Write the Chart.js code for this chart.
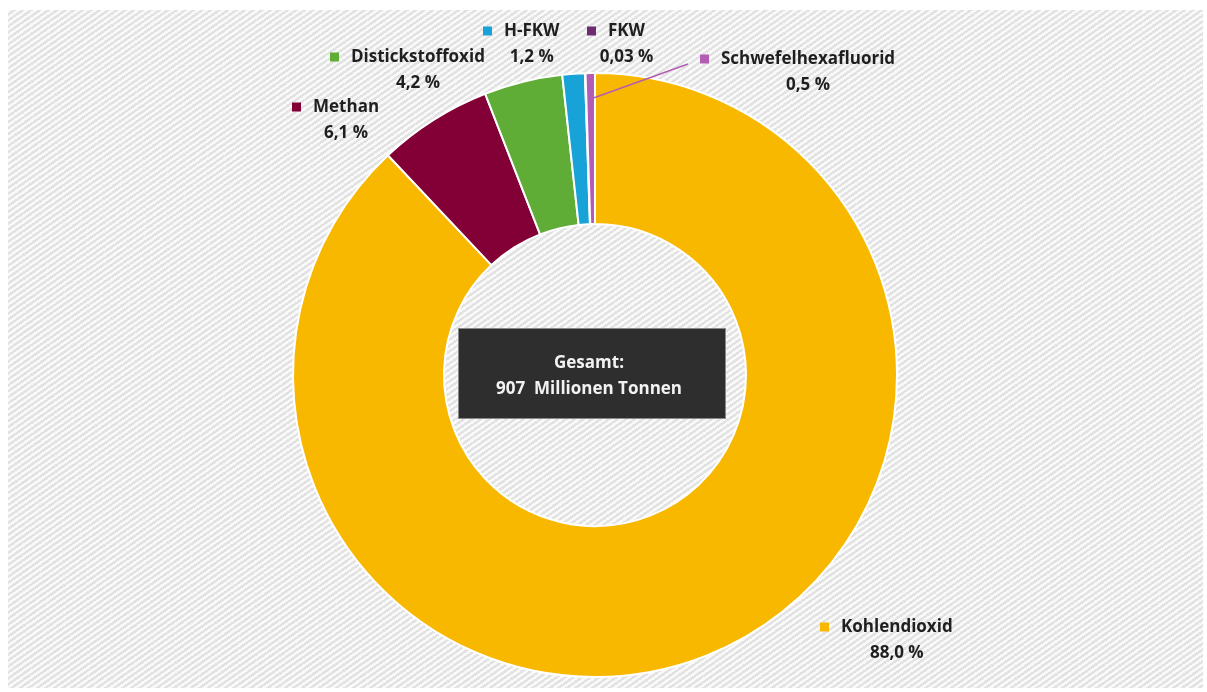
<!DOCTYPE html>
<html lang="de">
<head>
<meta charset="utf-8">
<title>Treibhausgas-Emissionen nach Gasen</title>
<script src="https://cdn.jsdelivr.net/npm/chart.js@4.4.1/dist/chart.umd.min.js"></script>
<style>
  html, body { margin: 0; padding: 0; background: #ffffff; }
  #frame {
    position: absolute; left: 8px; top: 10px; width: 1195px; height: 678px;
    background: repeating-linear-gradient(145deg, #f9f9f9 0px, #f9f9f9 2.5px, #e2e2e2 2.5px, #e2e2e2 4.9px);
  }
  #wrap { position: absolute; left: 0; top: 0; width: 1207px; height: 692px; }
</style>
</head>
<body>
<div id="frame"></div>
<div id="wrap"><canvas id="c" width="1207" height="692"></canvas></div>
<script>
// Anteile der Treibhausgase an den Gesamtemissionen (in %)
const gases = ['Kohlendioxid', 'Methan', 'Distickstoffoxid', 'H-FKW', 'FKW', 'Schwefelhexafluorid'];
const shares = [88.0, 6.1, 4.2, 1.2, 0.03, 0.5];
const shareLabels = ['88,0 %', '6,1 %', '4,2 %', '1,2 %', '0,03 %', '0,5 %'];
const colors = ['#f8b800', '#820035', '#5fac36', '#17a2d8', '#6e2b70', '#b35cb4'];
const totalLines = ['Gesamt:', '907  Millionen Tonnen'];

// Platzierung der Beschriftungen (Markierung links, Name, Prozentwert darunter)
const labelSpots = [
  { x: 820, y: 627 },
  { x: 292, y: 107 },
  { x: 330, y: 57 },
  { x: 483, y: 31 },
  { x: 587, y: 31 },
  { x: 700, y: 59 }
];
const leaderIndex = 5;

const FONT = 'bold 17px "Open Sans", "Noto Sans", sans-serif';

const labelPlugin = {
  id: 'gasLabels',
  afterDatasetsDraw(chart) {
    const ctx = chart.ctx;
    const meta = chart.getDatasetMeta(0);
    const first = meta.data[0];
    const cx = first.x, cy = first.y;

    // Summenbox in der Mitte
    ctx.save();
    const bw = 268, bh = 91;
    const bx = cx - 137, by = cy - 47;
    ctx.fillStyle = '#2e2e2e';
    ctx.fillRect(bx, by, bw, bh);
    ctx.strokeStyle = '#8a8a8a';
    ctx.lineWidth = 1;
    ctx.strokeRect(bx + 0.5, by + 0.5, bw - 1, bh - 1);
    ctx.fillStyle = '#f2f2f2';
    ctx.font = FONT;
    ctx.textAlign = 'center';
    ctx.textBaseline = 'middle';
    ctx.fillText(totalLines[0], bx + bw / 2 - 3, by + 35);
    ctx.fillText(totalLines[1], bx + bw / 2 - 3, by + 61);
    ctx.restore();

    // Verbindungslinie zum kleinen Segment
    const arc = meta.data[leaderIndex];
    const mid = (arc.startAngle + arc.endAngle) / 2;
    const rr = arc.outerRadius - 26;
    const sx = arc.x + Math.cos(mid) * rr;
    const sy = arc.y + Math.sin(mid) * rr;
    const spot = labelSpots[leaderIndex];
    ctx.save();
    ctx.strokeStyle = colors[leaderIndex];
    ctx.lineWidth = 1.5;
    ctx.beginPath();
    ctx.moveTo(sx, sy);
    ctx.lineTo(spot.x - 12, spot.y + 5);
    ctx.stroke();
    ctx.restore();

    // Beschriftungen
    ctx.save();
    ctx.font = FONT;
    ctx.textBaseline = 'middle';
    gases.forEach((name, i) => {
      const s = labelSpots[i];
      ctx.fillStyle = colors[i];
      ctx.fillRect(s.x, s.y - 4.5, 9, 9);
      ctx.fillStyle = '#1f1f1f';
      const tx = s.x + 21;
      ctx.textAlign = 'left';
      ctx.fillText(name, tx, s.y);
      const w = ctx.measureText(name).width;
      ctx.textAlign = 'center';
      ctx.fillText(shareLabels[i], tx + w / 2, s.y + 26);
    });
    ctx.restore();
  }
};

new Chart(document.getElementById('c'), {
  type: 'doughnut',
  data: {
    labels: gases,
    datasets: [{
      data: shares,
      backgroundColor: colors,
      borderColor: '#ffffff',
      borderWidth: 2,
      hoverOffset: 0
    }]
  },
  options: {
    responsive: false,
    animation: false,
    cutout: '50%',
    rotation: 0,
    layout: { padding: { left: 292, right: 309, top: 72, bottom: 14 } },
    plugins: {
      legend: { display: false },
      tooltip: { enabled: false }
    }
  },
  plugins: [labelPlugin]
});
</script>
</body>
</html>
